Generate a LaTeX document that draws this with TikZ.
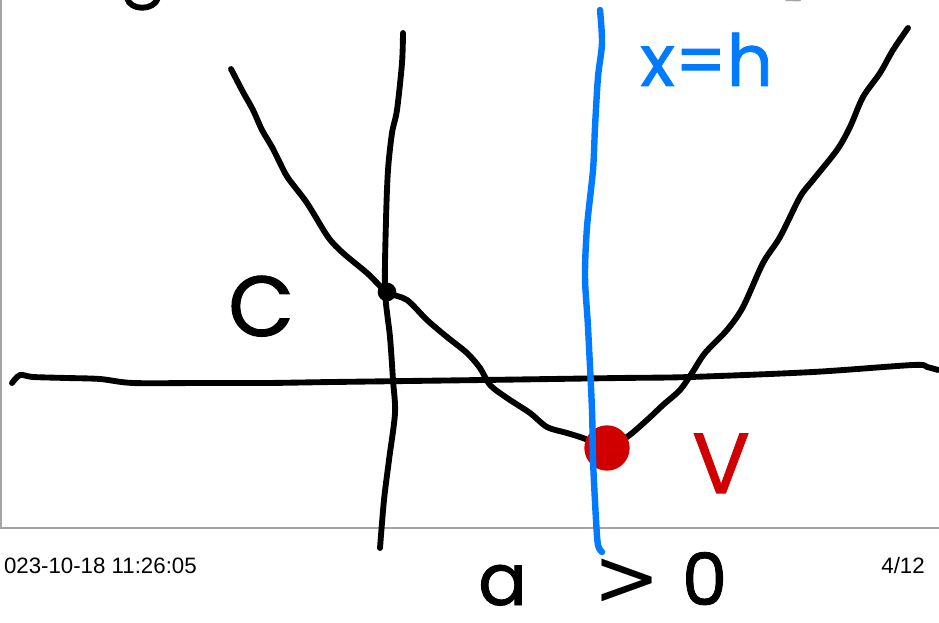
\documentclass[tikz,border=0pt]{standalone}
\usepackage{fontspec}
\setmainfont{Liberation Sans}
\newfontfamily\handfont[FakeBold=1.2]{Poppins}
\newfontfamily\relfont{DejaVu Sans}

\definecolor{inkblue}{RGB}{0,122,255}
\definecolor{inkred}{RGB}{208,0,0}
\definecolor{framegray}{RGB}{165,165,165}

\tikzset{
  ink/.style={line width=4.4pt, line cap=round, line join=round},
  hand/.style={inner sep=0pt, font=\handfont\fontsize{#1}{#1}\selectfont},
  stamp/.style={inner sep=0pt, font=\fontsize{16.7}{20}\selectfont},
}

\begin{document}
\begin{tikzpicture}[x=0.75pt, y=-0.75pt]
  \useasboundingbox (0,0) rectangle (939,623);

  % Page frame of the note
  \draw [framegray, line width=1.1pt] (1,0) -- (1,528) -- (939,528);

  % Leftovers of the handwriting above
  \draw [ink] (127,-2) .. controls (130,11) and (154,11) .. (158,-2);
  \draw [framegray, line width=1.5pt, line cap=round] (786,0) -- (800,0.5);

  % Axes
  \draw [ink] plot [smooth] coordinates {(12,383) (20,375) (33,377) (67,378)
    (100,379) (133,383) (200,383) (267,383) (333,382) (483,380) (620,378)
    (690,377) (813,372) (913,365) (927,367) (938,370)};
  \draw [ink] plot [smooth] coordinates {(403,33) (402,63) (397,110) (392,133)
    (388,170) (386,220) (385,290) (390,337) (393,380) (395,413) (389,460)
    (384,500) (380,548)};

  % The parabola, vertex below the x-axis
  \draw [ink] plot [smooth] coordinates {(231,69) (243,92) (253,110) (262,130)
    (272,147) (280,163) (288,178) (307,203) (328,237) (343,253) (367,273)
    (387,292) (407,300) (427,320) (447,337) (467,353) (480,368) (490,385)
    (507,398) (530,413) (547,427) (567,433) (583,438) (607,447) (627,437)
    (647,420) (663,405) (680,390) (692,373) (705,353) (727,330) (743,307)
    (763,263) (780,237) (800,197) (813,180) (837,150) (850,127) (863,97)
    (880,73) (893,50) (908,28)};

  % Vertex V
  \node (vtx) [circle, fill=inkred, inner sep=0pt, minimum size=34pt] at (607,448) {};

  % Axis of symmetry x = h
  \draw [ink, inkblue, line width=4.8pt] plot [smooth] coordinates {(600,10)
    (602,43) (598,77) (595,127) (593,170) (587,227) (585,277) (588,327)
    (592,410) (593,460) (596,520) (598,545) (602,552)};

  % y-intercept C
  \node (yint) [circle, fill=black, inner sep=0pt, minimum size=14pt] at (387,292) {};

  % Labels
  \node (lblxh) [hand=54, inkblue, anchor=base west] at (640,86) {x=h};
  \node (lblC) [hand=64, anchor=base west] at (228,336) {C};
  \node (lblV) [hand=64, inkred, anchor=base west] at (692,493) {V};
  \node (lblpos) [hand=54, anchor=base west] at (478,605)
    {a\hspace{50pt}{\relfont\fontsize{60}{60}\selectfont >}\hspace{16pt}0};

  % Footer
  \node (date) [stamp, anchor=base east] at (197,573) {023-10-18 11:26:05};
  \node (page) [stamp, anchor=base east] at (925,573) {4/12};
\end{tikzpicture}
\end{document}
